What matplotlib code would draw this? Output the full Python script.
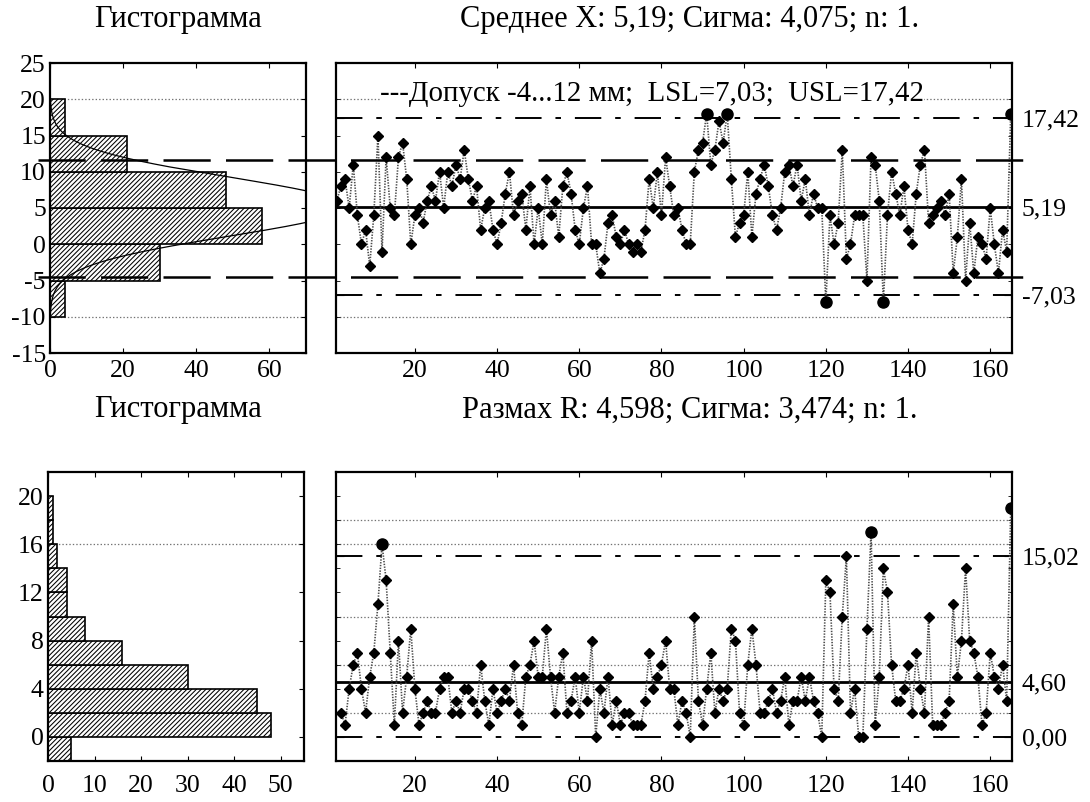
import numpy as np
import matplotlib
matplotlib.use('Agg')
import matplotlib.pyplot as plt
from matplotlib import transforms
from matplotlib.lines import Line2D

plt.rcParams['font.family'] = ['Liberation Serif', 'DejaVu Serif']
plt.rcParams['font.size'] = 18.5
plt.rcParams['axes.unicode_minus'] = False
plt.rcParams['lines.scale_dashes'] = False
plt.rcParams['hatch.linewidth'] = 0.75

# индивидуальные значения (мм), точки 1..165
x_vals = [6, 8, 9, 5, 11, 4, 0, 2, -3, 4,
          15, -1, 12, 5, 4, 12, 14, 9, 0, 4,
          5, 3, 6, 8, 6, 10, 5, 10, 8, 11,
          9, 13, 9, 6, 8, 2, 5, 6, 2, 0,
          3, 7, 10, 4, 6, 7, 2, 8, 0, 5,
          0, 9, 4, 6, 1, 8, 10, 7, 2, 0,
          5, 8, 0, 0, -4, -2, 3, 4, 1, 0,
          2, 0, -1, 0, -1, 2, 9, 5, 10, 4,
          12, 8, 4, 5, 2, 0, 0, 10, 13, 14,
          18, 11, 13, 17, 14, 18, 9, 1, 3, 4,
          10, 1, 7, 9, 11, 8, 4, 2, 5, 10,
          11, 8, 11, 6, 9, 4, 7, 5, 5, -8,
          4, 0, 3, 13, -2, 0, 4, 4, 4, -5,
          12, 11, 6, -8, 4, 10, 7, 4, 8, 2,
          0, 7, 11, 13, 3, 4, 5, 6, 4, 7,
          -4, 1, 9, -5, 3, -4, 1, 0, -2, 5,
          0, -4, 2, -1, 18]

# скользящий размах, точки 2..165
r_vals = [2, 1, 4, 6, 7, 4, 2, 5, 7,
          11, 16, 13, 7, 1, 8, 2, 5, 9, 4,
          1, 2, 3, 2, 2, 4, 5, 5, 2, 3,
          2, 4, 4, 3, 2, 6, 3, 1, 4, 2,
          3, 4, 3, 6, 2, 1, 5, 6, 8, 5,
          5, 9, 5, 2, 5, 7, 2, 3, 5, 2,
          5, 3, 8, 0, 4, 2, 5, 1, 3, 1,
          2, 2, 1, 1, 1, 3, 7, 4, 5, 6,
          8, 4, 4, 1, 3, 2, 0, 10, 3, 1,
          4, 7, 2, 4, 3, 4, 9, 8, 2, 1,
          6, 9, 6, 2, 2, 3, 4, 2, 3, 5,
          1, 3, 3, 5, 3, 5, 3, 2, 0, 13,
          12, 4, 3, 10, 15, 2, 4, 0, 0, 9,
          17, 1, 5, 14, 12, 6, 3, 3, 4, 6,
          2, 7, 4, 2, 10, 1, 1, 1, 2, 3,
          11, 5, 8, 14, 8, 7, 5, 1, 2, 7,
          5, 4, 6, 3, 19]

x_mean, x_sigma = 5.19, 4.075
x_ucl, x_lcl = 17.42, -7.03
tol_hi, tol_lo = 11.6, -4.5
r_mean, r_ucl, r_lcl = 4.60, 15.02, 0.00

hx_edges = [-10, -5, 0, 5, 10, 15, 20]
hx_counts = [4, 30, 58, 48, 21, 4]
hr_edges = [-2, 0, 2, 4, 6, 8, 10, 12, 14, 16, 18, 20]
hr_counts = [5, 48, 45, 30, 16, 8, 4, 4, 2, 1, 1]

W, H = 1090, 802
fig = plt.figure(figsize=(W / 100, H / 100), dpi=100)


def box(l, t, r, b):
    return [l / W, 1 - b / H, (r - l) / W, (b - t) / H]


ax_hx = fig.add_axes(box(50, 63, 306, 353))
ax_x = fig.add_axes(box(336, 63, 1012, 353))
ax_hr = fig.add_axes(box(48, 472, 304, 761))
ax_r = fig.add_axes(box(336, 472, 1012, 761))

ucl_dash = (0, (19, 10, 4, 10))
grid_kw = dict(color='0.45', ls=(0, (1, 1.5)), lw=0.9, zorder=1)

# --- гистограмма X
ax_hx.barh(hx_edges[:-1], hx_counts, height=5, align='edge', facecolor='white',
           edgecolor='black', hatch='///////', lw=1.2, zorder=2)
yy = np.linspace(-15, 25, 400)
n = len(x_vals)
fy = n * 5 / (x_sigma * np.sqrt(2 * np.pi)) * np.exp(-0.5 * ((yy - x_mean) / x_sigma) ** 2)
ax_hx.plot(fy, yy, color='black', lw=0.9, zorder=3)
for g in (20, -10):
    ax_hx.axhline(g, **grid_kw)
ax_hx.set_xlim(0, 70)
ax_hx.set_ylim(-15, 25)
ax_hx.set_xticks([0, 20, 40, 60])
ax_hx.set_yticks(range(-15, 26, 5))

# --- карта X
idx = np.arange(1, len(x_vals) + 1)
xv = np.array(x_vals)
ax_x.plot(idx, xv, color='0.3', ls=(0, (1, 1)), lw=1.2, zorder=3)
out = (xv > x_ucl) | (xv < x_lcl)
ax_x.plot(idx[~out], xv[~out], ls='none', marker='D', ms=5.5, color='black', zorder=4)
ax_x.plot(idx[out], xv[out], ls='none', marker='o', ms=8, color='black', zorder=4)
ax_x.axhline(x_mean, color='black', lw=2, zorder=2)
for v in (x_ucl, x_lcl):
    ax_x.axhline(v, color='black', lw=1.4, ls=ucl_dash, zorder=2)
for g in (20, -10):
    ax_x.axhline(g, **grid_kw)
ax_x.text(11.5, 19.7, '---Допуск -4...12 мм;  LSL=7,03;  USL=17,42', va='baseline',
          ha='left', fontsize=20.8, zorder=5,
          bbox=dict(facecolor='white', edgecolor='none', pad=0))
ax_x.set_xlim(0.8, 165.3)
ax_x.set_ylim(-15, 25)
ax_x.set_yticks([x_lcl, x_mean, x_ucl])
ax_x.set_yticklabels(['-7,03', '5,19', '17,42'])
ax_x.set_yticks(range(-15, 26, 5), minor=True)

# длинные пунктирные линии допуска через обе панели
tr = transforms.blended_transform_factory(fig.transFigure, ax_hx.transData)
for v in (tol_hi, tol_lo):
    fig.add_artist(Line2D([38 / W, 1032 / W], [v, v], transform=tr, color='black',
                          lw=1.8, ls=(0, (34, 11)), zorder=5))

# --- гистограмма R
ax_hr.barh(hr_edges[:-1], hr_counts, height=2, align='edge', facecolor='white',
           edgecolor='black', hatch='///////', lw=1.2, zorder=2)
ax_hr.axhline(16, **grid_kw)
ax_hr.set_xlim(0, 55)
ax_hr.set_ylim(-2, 22)
ax_hr.set_xticks(range(0, 51, 10))
ax_hr.set_yticks(range(0, 21, 4))

# --- карта R
ridx = np.arange(2, len(r_vals) + 2)
rv = np.array(r_vals)
ax_r.plot(ridx, rv, color='0.3', ls=(0, (1, 1)), lw=1.2, zorder=3)
rout = rv > r_ucl
ax_r.plot(ridx[~rout], rv[~rout], ls='none', marker='D', ms=5.5, color='black', zorder=4)
ax_r.plot(ridx[rout], rv[rout], ls='none', marker='o', ms=8, color='black', zorder=4)
ax_r.axhline(r_mean, color='black', lw=2, zorder=2)
for v in (r_ucl, r_lcl):
    ax_r.axhline(v, color='black', lw=1.4, ls=ucl_dash, zorder=2)
for g in (2, 6, 10, 16, 18):
    ax_r.axhline(g, **grid_kw)
ax_r.set_xlim(0.8, 165.3)
ax_r.set_ylim(-2, 22)
ax_r.set_yticks([r_lcl, r_mean, r_ucl])
ax_r.set_yticklabels(['0,00', '4,60', '15,02'])
ax_r.set_yticks(range(-2, 23, 2), minor=True)

for ax in (ax_x, ax_r):
    ax.set_xticks(range(20, 161, 20))
    ax.tick_params(axis='y', which='both', left=True, right=True, labelleft=False,
                   labelright=True, direction='in', pad=7)
    ax.tick_params(axis='y', which='major', length=6)
    ax.tick_params(axis='y', which='minor', length=3)

for ax in (ax_hx, ax_x, ax_hr, ax_r):
    ax.tick_params(axis='x', which='both', top=True, bottom=True, direction='in', pad=5)
    for s in ax.spines.values():
        s.set_linewidth(1.6)
for ax in (ax_hr, ax_r):
    ax.tick_params(axis='x', pad=10)
for ax in (ax_hx, ax_hr):
    ax.tick_params(axis='y', left=True, right=True, direction='in', pad=3)

fig.text(178 / W, 1 - 19 / H, 'Гистограмма', ha='center', va='center', fontsize=22)
fig.text(690 / W, 1 - 19 / H, 'Среднее X: 5,19; Сигма: 4,075; n: 1.', ha='center',
         va='center', fontsize=22)
fig.text(178 / W, 1 - 410 / H, 'Гистограмма', ha='center', va='center', fontsize=22)
fig.text(690 / W, 1 - 410 / H, 'Размах R: 4,598; Сигма: 3,474; n: 1.', ha='center',
         va='center', fontsize=22)

fig.savefig('out.png', dpi=100)
